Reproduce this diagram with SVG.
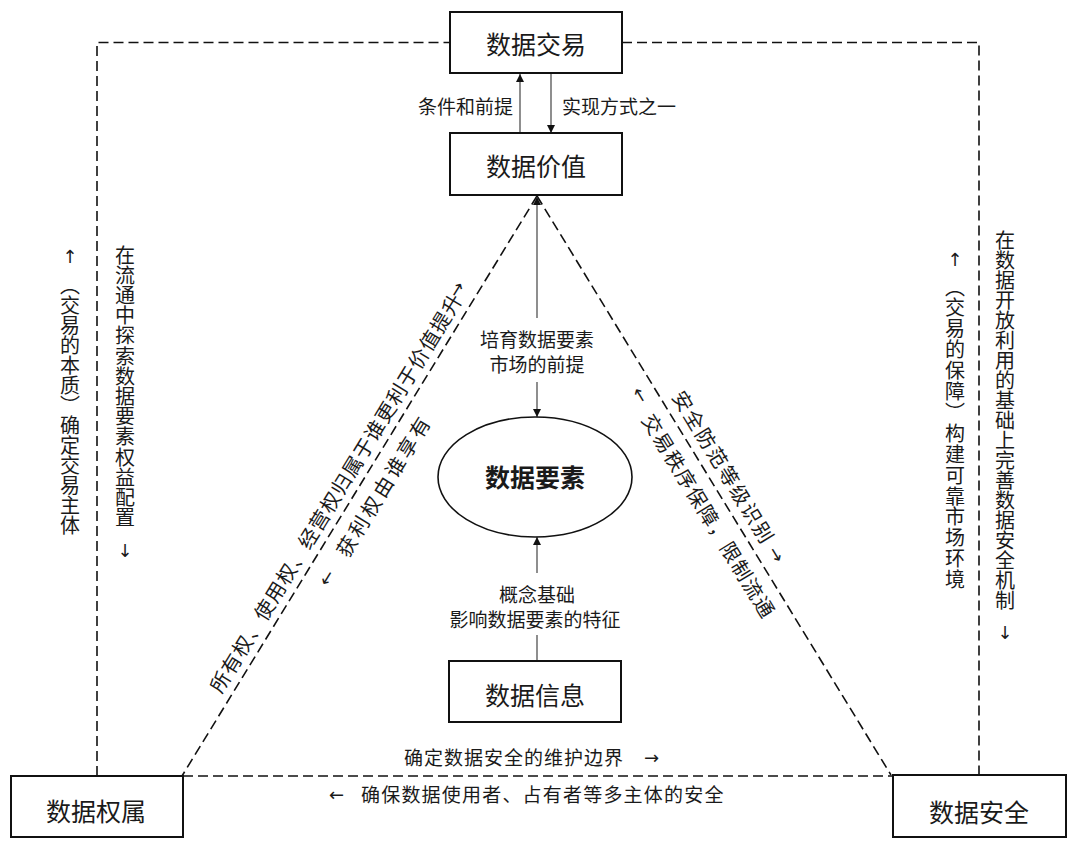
<svg xmlns="http://www.w3.org/2000/svg" width="1080" height="851" viewBox="0 0 1080 851">
<style>
  .box { fill: #fff; stroke: #111; stroke-width: 2; }
  .dash { fill: none; stroke: #111; stroke-width: 1.6; stroke-dasharray: 10 5; }
  .thin { fill: none; stroke: #444; stroke-width: 1.2; }
  .t { font-family: "Noto Sans CJK SC", "Noto Sans", sans-serif; fill: #1a1a1a; }
  .big { font-size: 25px; text-anchor: middle; }
  .lab { font-size: 19px; }
  .mid { text-anchor: middle; }
  .vert { font-size: 20px; writing-mode: vertical-rl; }
  .arr { font-family: "DejaVu Sans", sans-serif; font-size: 18px; fill: #1a1a1a; }
</style>
<defs>
  <marker id="ah" viewBox="0 0 10 10" refX="10" refY="5" markerWidth="8" markerHeight="8" markerUnits="userSpaceOnUse" orient="auto">
    <path d="M0,0 L10,5 L0,10 z" fill="#111"/>
  </marker>
</defs>
<rect width="1080" height="851" fill="#fff"/>

<g id="connectors">
  <path class="dash" d="M97,776 V42.5 H450"/>
  <path class="dash" d="M622,42.5 H979 V775"/>
  <path class="dash" d="M537,196 L182,776"/>
  <path class="dash" d="M537,196 L891,775"/>
  <path class="dash" d="M183,776 H892"/>
  <line class="thin" x1="520" y1="133" x2="520" y2="74" marker-end="url(#ah)"/>
  <line class="thin" x1="551" y1="74" x2="551" y2="133" marker-end="url(#ah)"/>
  <line class="thin" x1="537" y1="318" x2="537" y2="197" marker-end="url(#ah)"/>
  <line class="thin" x1="537" y1="382" x2="537" y2="417" marker-end="url(#ah)"/>
  <line class="thin" x1="537" y1="573" x2="537" y2="537" marker-end="url(#ah)"/>
  <line class="thin" x1="537" y1="635" x2="537" y2="661"/>
</g>

<g id="node-trade">
  <rect class="box" x="450" y="12" width="172" height="61"/>
  <text class="t big" x="536" y="54">数据交易</text>
</g>
<g id="node-value">
  <rect class="box" x="450" y="133" width="172" height="62"/>
  <text class="t big" x="536" y="176">数据价值</text>
</g>
<g id="node-element">
  <ellipse cx="535" cy="477" rx="97" ry="60" fill="#fff" stroke="#111" stroke-width="1.6"/>
  <text class="t big" x="535" y="487" font-weight="bold" font-size="26">数据要素</text>
</g>
<g id="node-info">
  <rect class="box" x="449" y="661" width="172" height="61"/>
  <text class="t big" x="535" y="705">数据信息</text>
</g>
<g id="node-ownership">
  <rect class="box" x="11" y="776" width="172" height="61"/>
  <text class="t big" x="96" y="821">数据权属</text>
</g>
<g id="node-security">
  <rect class="box" x="893" y="775" width="173" height="62"/>
  <text class="t big" x="979" y="822">数据安全</text>
</g>

<g id="labels">
  <text class="t lab" x="513" y="114" text-anchor="end">条件和前提</text>
  <text class="t lab" x="562" y="114">实现方式之一</text>

  <text class="t lab mid" x="537" y="347">培育数据要素</text>
  <text class="t lab mid" x="537" y="372">市场的前提</text>

  <text class="t lab mid" x="537" y="602">概念基础</text>
  <text class="t lab mid" x="535" y="627">影响数据要素的特征</text>

  <text class="t lab" x="404" y="765" letter-spacing="1">确定数据安全的维护边界</text>
  <text class="arr" x="644" y="764">→</text>
  <text class="arr" x="329" y="801">←</text>
  <text class="t lab" x="361" y="802" letter-spacing="1.2">确保数据使用者、占有者等多主体的安全</text>

  <text class="arr" x="70" y="263" text-anchor="middle">↑</text>
  <text class="t vert" x="70" y="275" font-size="19.5">（交易的本质）确定交易主体</text>
  <text class="t vert" x="125" y="245" letter-spacing="0.2">在流通中探索数据要素权益配置</text>
  <text class="arr" x="125" y="557" text-anchor="middle">↓</text>

  <text class="arr" x="955" y="266" text-anchor="middle">↑</text>
  <text class="t vert" x="955" y="277" letter-spacing="0.9">（交易的保障）构建可靠市场环境</text>
  <text class="t vert" x="1005" y="230">在数据开放利用的基础上完善数据安全机制</text>
  <text class="arr" x="1005" y="639" text-anchor="middle">↓</text>

  <g transform="translate(182,776) rotate(-58.5)">
    <text class="t" font-size="20" x="90" y="-9" letter-spacing="1.1">所有权、使用权、经营权归属于谁更利于价值提升</text>
    <text class="arr" x="551" y="-14">→</text>
    <text class="arr" x="237" y="26">←</text>
    <text class="t" font-size="20" x="272" y="28" letter-spacing="3.2">获利权由谁享有</text>
  </g>
  <g transform="translate(537,196) rotate(58.56)">
    <text class="t" font-size="20" x="241" y="-10" letter-spacing="2">安全防范等级识别</text>
    <text class="arr" x="423" y="-11">→</text>
    <text class="arr" x="216" y="22">←</text>
    <text class="t" font-size="20" x="245" y="28" letter-spacing="1.4">交易秩序保障，限制流通</text>
  </g>
</g>
</svg>
